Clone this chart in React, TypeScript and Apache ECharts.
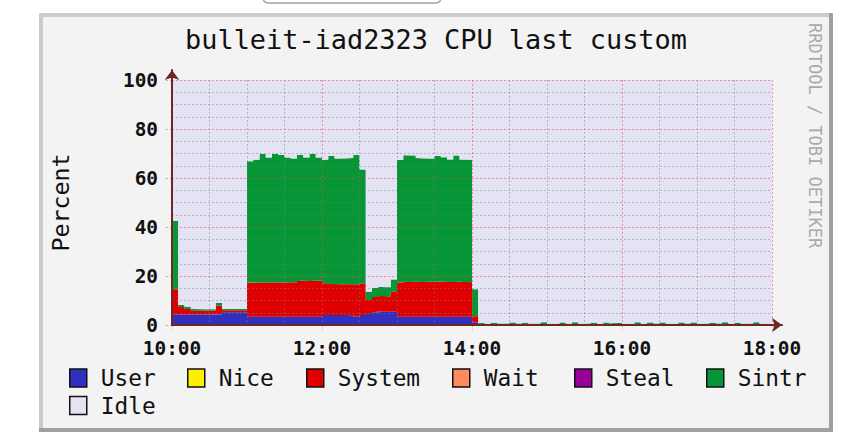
import React, { useEffect, useRef } from 'react';
import * as echarts from 'echarts';

// ---- data (5-minute RRD steps starting 10:00) ----
const STEP_MIN = 5;
const SPAN_MIN = 480;
const xTickLabels = ['10:00', '12:00', '14:00', '16:00', '18:00'];
const legendNames = ['User', 'Nice', 'System', 'Wait', 'Steal', 'Sintr', 'Idle'];

const user = [
  4.3, 4.3, 4.3, 4.3, 4.3, 4.3, 4.3, 4.4, 5.2, 5.2, 5.2, 5.2,
  3.4, 3.4, 3.4, 3.4, 3.4, 3.4, 3.4, 3.4, 3.4, 3.4, 3.4, 3.4,
  4.1, 4.1, 4.1, 4.1, 4.0, 3.5, 4.1,
  4.5, 5.2, 5.4, 5.4, 5.4,
  3.4, 3.4, 3.4, 3.4, 3.4, 3.4, 3.4, 3.4, 3.4, 3.4, 3.4, 3.4,
  1.0, 0.1,
  0.1, 0.1, 0.1, 0.2, 0.1, 0.1, 0.1, 0.1, 0.2, 0.1,
  0.1, 0.1, 0.1, 0.1, 0.2, 0.1, 0.1, 0.1, 0.1, 0.1,
  0.2, 0.1, 0.1, 0.1, 0.1, 0.1, 0.2, 0.1, 0.1, 0.1,
  0.1, 0.1, 0.2, 0.1, 0.1, 0.1, 0.1, 0.2, 0.1, 0.1,
  0.1, 0.1, 0.1, 0.2, 0.1, 0.1,
];
const nice: number[] = [];
const system = [
  10.3, 3.0, 2.2, 1.6, 1.5, 1.5, 1.5, 3.6, 0.8, 0.8, 0.8, 0.8,
  13.8, 13.9, 13.9, 13.9, 13.9, 13.9, 14.0, 13.9, 14.6, 14.7, 14.6, 14.7,
  12.9, 12.6, 12.5, 12.5, 12.6, 13.0, 12.8,
  5.7, 6.2, 6.4, 6.2, 8.2,
  13.9, 14.3, 14.2, 14.3, 14.2, 14.3, 14.3, 14.4, 14.3, 14.2, 14.3, 14.1,
  2.6, 0.4,
  0.2, 0.2, 0.3, 0.2, 0.2, 0.3, 0.2, 0.2, 0.2, 0.3,
  0.2, 0.2, 0.3, 0.2, 0.2, 0.2, 0.3, 0.2, 0.2, 0.2,
  0.3, 0.2, 0.2, 0.2, 0.3, 0.2, 0.2, 0.3, 0.2, 0.2,
  0.2, 0.3, 0.2, 0.2, 0.2, 0.3, 0.2, 0.2, 0.3, 0.2,
  0.2, 0.2, 0.3, 0.2, 0.2, 0.2,
];
const wait: number[] = [];
const steal: number[] = [];
const sintr = [
  27.8, 0.9, 1.0, 0.7, 0.6, 0.6, 0.6, 1.0, 0.5, 0.5, 0.5, 0.5,
  49.6, 50.1, 52.5, 51.1, 52.5, 52.1, 51.0, 50.7, 51.4, 50.3, 51.8, 50.3,
  50.4, 52.3, 51.4, 51.4, 51.6, 52.9, 46.6,
  3.4, 3.8, 3.8, 3.8, 5.0,
  50.0, 51.6, 51.6, 50.5, 50.4, 50.3, 51.3, 50.7, 49.9, 51.6, 49.9, 49.9,
  11.0, 0.3,
  0.2, 0.6, 0.2, 0.2, 0.7, 0.2, 0.6, 0.2, 0.2, 0.7,
  0.2, 0.2, 0.6, 0.2, 0.7, 0.2, 0.2, 0.6, 0.2, 0.7,
  0.2, 0.6, 0.2, 0.2, 0.7, 0.2, 0.6, 0.2, 0.7, 0.2,
  0.2, 0.6, 0.2, 0.7, 0.2, 0.2, 0.6, 0.2, 0.7, 0.2,
  0.6, 0.2, 0.2, 0.7, 0.2, 0.2,
];
const idle = user.map((u, i) => +(100 - u - system[i] - sintr[i]).toFixed(2));

// ---- styles ----
const FONT = 'DejaVu Sans Mono';
const MS_PER_MIN = 60000;
const seriesColors = ['#3030be', '#ffee00', '#e00000', '#ff8a5c', '#990099', '#069636', '#e3e3f3'];
const legendLeft = [69, 187, 306, 452, 574, 706, 69];
const legendTop = [366.5, 366.5, 366.5, 366.5, 366.5, 366.5, 394];

// time-typed x so that ECharts stacks the y values
const toPoints = (arr: number[]) => {
  const pts = arr.map((v, i) => [i * STEP_MIN * MS_PER_MIN, v]);
  if (arr.length) pts.push([arr.length * STEP_MIN * MS_PER_MIN, arr[arr.length - 1]]);
  return pts;
};

export default function App() {
  const ref = useRef<HTMLDivElement>(null);
  useEffect(() => {
    const chart = echarts.init(ref.current!, null, { renderer: 'svg' });
    const seriesData = [user, nice, system, wait, steal, sintr, idle];
    const majorLine = { color: 'rgba(255,70,70,0.55)', width: 1, type: [2, 2] as any };
    const minorLine = { color: 'rgba(120,120,140,0.45)', width: 1, type: [2, 2] as any };
    const axisColor = '#6e2626';

    chart.setOption({
      animation: false,
      backgroundColor: '#ffffff',
      title: {
        text: 'bulleit-iad2323 CPU last custom',
        left: 436,
        top: 25,
        textAlign: 'center',
        padding: 0,
        textStyle: { fontFamily: FONT, fontSize: 26.9, fontWeight: 'normal', color: '#111', lineHeight: 28 },
      },
      graphic: [
        { type: 'rect', z: -10, shape: { x: 263, y: -8, width: 178, height: 11, r: 5 }, style: { fill: '#fff', stroke: '#a0a0a0', lineWidth: 1.5 } },
        { type: 'rect', z: -10, shape: { x: 39, y: 13, width: 794, height: 419 }, style: { fill: '#f3f3f3' } },
        { type: 'rect', z: -9, shape: { x: 39, y: 13, width: 794, height: 4 }, style: { fill: '#cbcbcb' } },
        { type: 'rect', z: -9, shape: { x: 39, y: 13, width: 4, height: 419 }, style: { fill: '#cbcbcb' } },
        { type: 'rect', z: -9, shape: { x: 829, y: 13, width: 4, height: 419 }, style: { fill: '#a0a0a0' } },
        { type: 'rect', z: -9, shape: { x: 39, y: 428, width: 794, height: 4 }, style: { fill: '#a0a0a0' } },
        {
          type: 'text', x: 815, y: 23, rotation: -Math.PI / 2,
          style: { text: 'RRDTOOL / TOBI OETIKER', x: 0, y: 0, align: 'left', verticalAlign: 'middle', font: `17px "${FONT}"`, fill: '#aaaaaa' },
        },
      ],
      grid: [
        { left: 172, right: 74, top: 80, bottom: 123, show: true, backgroundColor: '#e3e3f3', borderWidth: 0 },
        { left: 172, right: 64, top: 70, bottom: 123, show: false },
      ],
      xAxis: [
        {
          // display axis: minutes since 10:00
          type: 'value', gridIndex: 0, min: 0, max: SPAN_MIN, interval: 120, z: 3,
          axisLine: { show: false },
          axisTick: { show: true, length: 5, lineStyle: majorLine },
          axisLabel: {
            margin: 15, fontFamily: FONT, fontSize: 19.4, fontWeight: 'bold', color: '#111', lineHeight: 16,
            formatter: (v: number) => xTickLabels[Math.round(v / 120)] ?? '',
          },
          splitLine: { show: true, lineStyle: majorLine },
          minorTick: { show: false, splitNumber: 4 },
          minorSplitLine: { show: true, lineStyle: minorLine },
        },
        {
          type: 'value', gridIndex: 1, min: 0, max: 1, z: 4,
          axisLine: { show: true, symbol: ['none', 'arrow'], symbolSize: [11, 10], lineStyle: { color: axisColor, width: 2 } },
          axisTick: { show: false }, axisLabel: { show: false }, splitLine: { show: false },
        },
        {
          // hidden data axis (same span) that the series use
          type: 'time', gridIndex: 0, min: 0, max: SPAN_MIN * MS_PER_MIN, show: false,
          splitLine: { show: false },
        },
      ],
      yAxis: [
        {
          type: 'value', gridIndex: 0, min: 0, max: 100, interval: 20, z: 3,
          name: 'Percent', nameLocation: 'middle', nameGap: 100, nameRotate: 90,
          nameTextStyle: { fontFamily: FONT, fontSize: 23.3, color: '#111', lineHeight: 24 },
          axisLine: { show: false },
          axisTick: { show: true, length: 6, lineStyle: majorLine },
          axisLabel: { margin: 14, fontFamily: FONT, fontSize: 19.4, fontWeight: 'bold', color: '#111', lineHeight: 16 },
          splitLine: { show: true, lineStyle: majorLine },
          minorTick: { show: false, splitNumber: 4 },
          minorSplitLine: { show: true, lineStyle: minorLine },
        },
        {
          type: 'value', gridIndex: 1, min: 0, max: 1, z: 4,
          axisLine: { show: true, symbol: ['none', 'arrow'], symbolSize: [11, 10], lineStyle: { color: axisColor, width: 2 } },
          axisTick: { show: false }, axisLabel: { show: false }, splitLine: { show: false },
        },
      ],
      legend: legendNames.map((name, i) => ({
        data: [name],
        left: legendLeft[i],
        top: legendTop[i],
        padding: 0,
        icon: 'rect',
        itemWidth: 17,
        itemHeight: 18,
        selectedMode: false,
        itemStyle: { borderColor: '#111', borderWidth: 1.5 },
        textStyle: { fontFamily: FONT, fontSize: 22.8, color: '#111', lineHeight: 22, padding: [0, 0, 0, 9] },
      })),
      series: legendNames.map((name, i) => ({
        name,
        type: 'line',
        xAxisIndex: 2,
        yAxisIndex: 0,
        stack: seriesData[i].length ? 'cpu' : undefined,
        step: 'end',
        symbol: 'none',
        silent: true,
        z: 2,
        color: seriesColors[i],
        lineStyle: { width: 0 },
        areaStyle: { color: seriesColors[i], opacity: 1 },
        data: toPoints(seriesData[i]),
      })),
    });
    return () => chart.dispose();
  }, []);
  return <div ref={ref} style={{ position: 'absolute', left: 0, top: 0, width: 846, height: 448 }} />;
}
